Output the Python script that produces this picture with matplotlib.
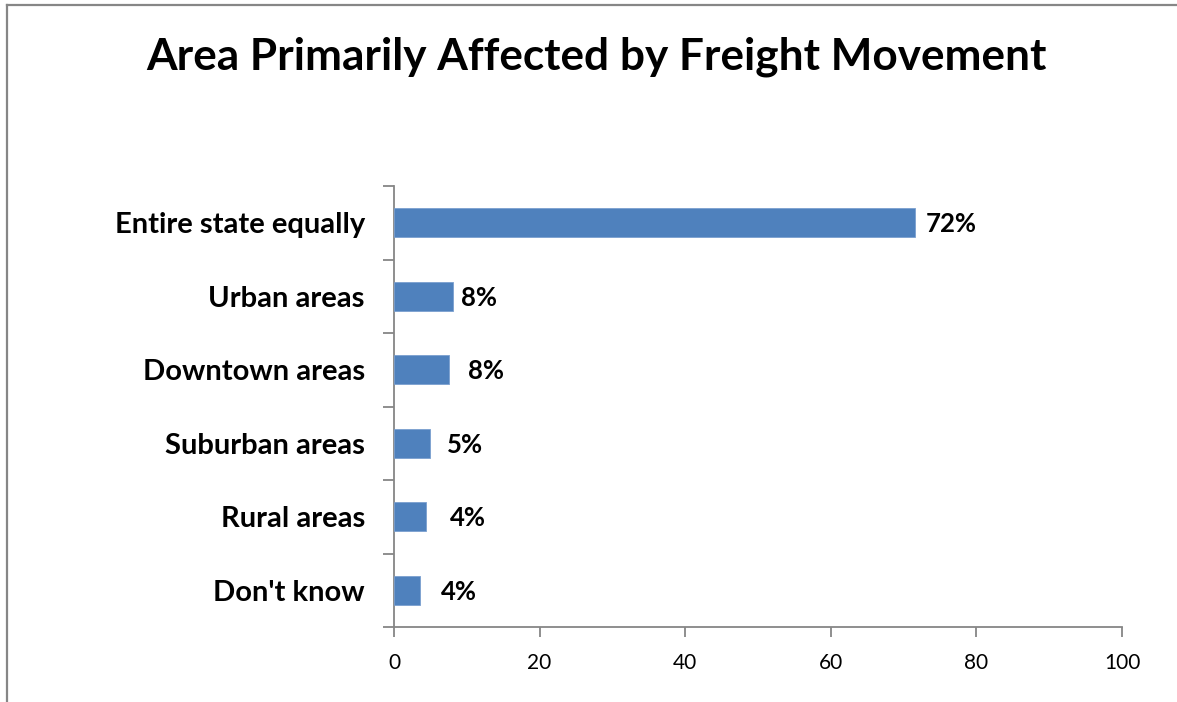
import matplotlib
matplotlib.use("Agg")
import matplotlib.pyplot as plt
import numpy as np
from matplotlib.lines import Line2D

categories = ["Entire state equally", "Urban areas", "Downtown areas",
              "Suburban areas", "Rural areas", "Don't know"]
values = [71.6, 8.1, 7.6, 4.9, 4.4, 3.6]
value_labels = ["72%", "8%", "8%", "5%", "4%", "4%"]
label_offsets = [11, 8, 19, 17, 24, 21]  # px gap between bar end and label
xticks = [0, 20, 40, 60, 80, 100]

FONT = "Lato"
W, H = 1177, 702
fig = plt.figure(figsize=(W / 100, H / 100), dpi=100)
fig.patch.set_facecolor("white")

ax = fig.add_axes([394 / W, 1 - 627 / H, (1122 - 394) / W, (627 - 186) / H])
y = np.arange(len(categories))
ax.barh(y, values, height=0.4, color="#4F81BD", edgecolor="#7A9FCF", linewidth=0.6, zorder=3)
ax.set_xlim(0, 100)
ax.set_ylim(len(categories) - 0.5, -0.5)

ax.set_xticks(xticks)
ax.set_xticklabels([str(t) for t in xticks], fontfamily=FONT, fontsize=15)
ax.tick_params(axis="x", length=7, width=1.3, color="#868686", pad=12)

ax.set_yticks(y)
ax.set_yticklabels(categories, fontfamily=FONT, fontsize=21, fontweight="bold")
ax.tick_params(axis="y", which="major", length=0, pad=21)
ax.set_yticks(np.arange(-0.5, len(categories), 1), minor=True)
ax.tick_params(axis="y", which="minor", length=8, width=1.3, color="#868686")

for s in ["top", "right"]:
    ax.spines[s].set_visible(False)
for s in ["left", "bottom"]:
    ax.spines[s].set_color("#868686")
    ax.spines[s].set_linewidth(1.3)

for yi, v, lab, off in zip(y, values, value_labels, label_offsets):
    ax.annotate(lab, xy=(v, yi), xytext=(off * 0.72, -1), textcoords="offset points",
                ha="left", va="center", fontfamily=FONT, fontsize=18.5, fontweight="bold")

fig.text(596 / W, 1 - 57 / H, "Area Primarily Affected by Freight Movement",
         ha="center", va="center", fontfamily=FONT, fontsize=31.8, fontweight="bold")

# outer chart border (top and left visible)
fig.add_artist(Line2D([7 / W, 1.0], [1 - 5 / H, 1 - 5 / H], color="#868686", linewidth=1.6,
                      transform=fig.transFigure))
fig.add_artist(Line2D([7 / W, 7 / W], [0, 1 - 5 / H], color="#868686", linewidth=1.6,
                      transform=fig.transFigure))

fig.savefig("out.png", dpi=100, facecolor="white")
